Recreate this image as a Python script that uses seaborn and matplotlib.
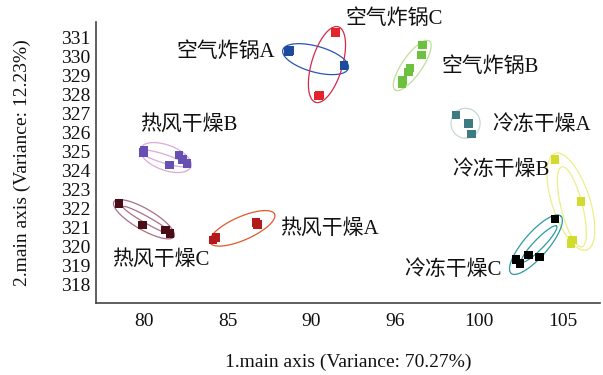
import numpy as np
import pandas as pd
import seaborn as sns
import matplotlib.pyplot as plt

# group names (legend text drawn next to clusters)
groups = ["空气炸锅A", "空气炸锅B", "空气炸锅C",
          "热风干燥A", "热风干燥B", "热风干燥C",
          "冷冻干燥A", "冷冻干燥B", "冷冻干燥C"]

# sample scores (axis 1, axis 2)
pc1 = {
    "空气炸锅A": [88.61, 88.70, 91.93],
    "空气炸锅B": [96.63, 96.57, 95.87, 95.77, 95.41, 95.38],
    "空气炸锅C": [91.44, 90.40, 90.48],
    "热风干燥A": [86.68, 86.76, 84.30, 84.13],
    "热风干燥B": [80.00, 79.96, 82.09, 82.31, 82.58, 81.51],
    "热风干燥C": [78.51, 79.92, 81.29, 81.55],
    "冷冻干燥A": [98.62, 99.35, 99.55],
    "冷冻干燥B": [104.52, 106.06, 105.55, 105.48],
    "冷冻干燥C": [104.52, 102.20, 102.43, 102.93, 103.59],
}
pc2 = {
    "空气炸锅A": [330.23, 330.30, 329.49],
    "空气炸锅B": [330.58, 330.05, 329.38, 329.16, 328.70, 328.56],
    "空气炸锅C": [331.25, 327.89, 327.95],
    "热风干燥A": [321.25, 321.14, 320.46, 320.32],
    "热风干燥B": [325.05, 324.91, 324.79, 324.56, 324.35, 324.26],
    "热风干燥C": [322.25, 321.11, 320.84, 320.67],
    "冷冻干燥A": [326.89, 326.46, 325.89],
    "冷冻干燥B": [324.56, 322.33, 320.32, 320.14],
    "冷冻干燥C": [321.41, 319.30, 319.09, 319.53, 319.41],
}

# confidence ellipses: major axis end points (data units) and minor/major ratio
ell_group = ["空气炸锅A", "空气炸锅C", "空气炸锅B",
             "热风干燥B", "热风干燥B", "热风干燥C", "热风干燥C", "热风干燥A",
             "冷冻干燥A", "冷冻干燥B", "冷冻干燥B", "冷冻干燥C", "冷冻干燥C"]
ell_x1 = [88.28, 91.59, 97.02, 79.80, 79.76, 78.21, 78.76, 83.94, 99.18, 104.52, 104.92, 101.90, 102.54]
ell_y1 = [330.32, 331.54, 330.79, 325.14, 325.00, 322.33, 322.07, 320.18, 327.25, 324.88, 324.17, 318.56, 319.17]
ell_x2 = [92.19, 90.24, 94.98, 82.80, 82.50, 81.79, 81.65, 87.79, 99.18, 106.41, 106.12, 104.86, 104.61]
ell_y2 = [329.35, 327.56, 328.21, 324.17, 324.23, 320.49, 320.63, 321.68, 325.67, 319.79, 319.96, 321.58, 321.05]
ell_ratio = [0.38, 0.39, 0.33, 0.47, 0.18, 0.30, 0.12, 0.33, 0.97, 0.37, 0.26, 0.32, 0.20]

# label anchors
lab_x = [87.8, 97.76, 92.0, 88.11, 79.76, 78.13, 100.75, 104.22, 101.34]
lab_y = [330.23, 329.44, 331.95, 320.93, 326.37, 319.26, 326.37, 324.0, 318.74]
lab_ha = ["right", "left", "left", "left", "left", "left", "left", "right", "right"]

x_ticks = [80, 85, 90, 95, 100, 105]
x_ticklabels = ["80", "85", "90", "96", "100", "105"]
y_ticks = list(range(318, 332))

point_colors = {
    "空气炸锅A": "#1c4a9c", "空气炸锅B": "#6cc23e", "空气炸锅C": "#e3222c",
    "热风干燥A": "#b51a1a", "热风干燥B": "#6650b4", "热风干燥C": "#4a0c16",
    "冷冻干燥A": "#3e7a82", "冷冻干燥B": "#d2dc2e", "冷冻干燥C": "#000000",
}
ellipse_colors = {
    "空气炸锅A": "#2a56b0", "空气炸锅B": "#bfdf98", "空气炸锅C": "#d62848",
    "热风干燥A": "#e2582c", "热风干燥B": "#dcaad8", "热风干燥C": "#a8708a",
    "冷冻干燥A": "#c8d6d6", "冷冻干燥B": "#eeee88", "冷冻干燥C": "#2c9ca2",
}

rows = []
for g in groups:
    for a, b in zip(pc1[g], pc2[g]):
        rows.append({"group": g, "pc1": a, "pc2": b})
df = pd.DataFrame(rows)

sns.set_style("white")
plt.rcParams["font.family"] = ["Liberation Serif", "Noto Sans CJK SC"]
plt.rcParams["axes.unicode_minus"] = False

fig = plt.figure(figsize=(6.03, 3.75), dpi=100)
ax = fig.add_axes([96 / 603, 72 / 375, 504 / 603, 281 / 375])
ax.set_xlim(77.14, 107.2)
ax.set_ylim(317.0, 331.79)


def draw_ellipse(ax, x1, y1, x2, y2, ratio, color):
    # build the ellipse in display space so it keeps its drawn shape
    p1, p2 = ax.transData.transform([(x1, y1), (x2, y2)])
    c = (p1 + p2) / 2
    u = (p2 - p1) / 2
    v = np.array([-u[1], u[0]]) * ratio
    t = np.linspace(0, 2 * np.pi, 200)
    pts = c + np.outer(np.cos(t), u) + np.outer(np.sin(t), v)
    d = ax.transData.inverted().transform(pts)
    ax.plot(d[:, 0], d[:, 1], color=color, lw=0.9, zorder=2)


for g, x1, y1, x2, y2, r in zip(ell_group, ell_x1, ell_y1, ell_x2, ell_y2, ell_ratio):
    draw_ellipse(ax, x1, y1, x2, y2, r, ellipse_colors[g])

sns.scatterplot(data=df, x="pc1", y="pc2", hue="group", palette=point_colors,
                marker="s", s=38, linewidth=0, legend=False, ax=ax, zorder=3)

for g, x, y, ha in zip(groups, lab_x, lab_y, lab_ha):
    ax.text(x, y, g, ha=ha, va="center", fontsize=15, color="#111111", clip_on=False)

ax.set_xticks(x_ticks)
ax.set_xticklabels(x_ticklabels)
ax.set_yticks(y_ticks)
ax.tick_params(direction="in", length=4, width=1, color="#333333",
               labelsize=14, labelcolor="#111111")
ax.tick_params(axis="x", pad=7)
ax.tick_params(axis="y", pad=4)
for side in ["top", "right"]:
    ax.spines[side].set_visible(False)
for side in ["left", "bottom"]:
    ax.spines[side].set_color("#444444")
    ax.spines[side].set_linewidth(1.2)

ax.set_xlabel("1.main axis (Variance: 70.27%)", fontsize=14, color="#111111")
ax.set_ylabel("2.main axis (Variance: 12.23%)", fontsize=14, color="#111111")
ax.xaxis.set_label_coords(0.5, -0.21)
ax.yaxis.set_label_coords(-0.147, 0.5)
ax.xaxis.label.set_va("center")
ax.yaxis.label.set_va("center")

fig.savefig("out.png", dpi=100)
